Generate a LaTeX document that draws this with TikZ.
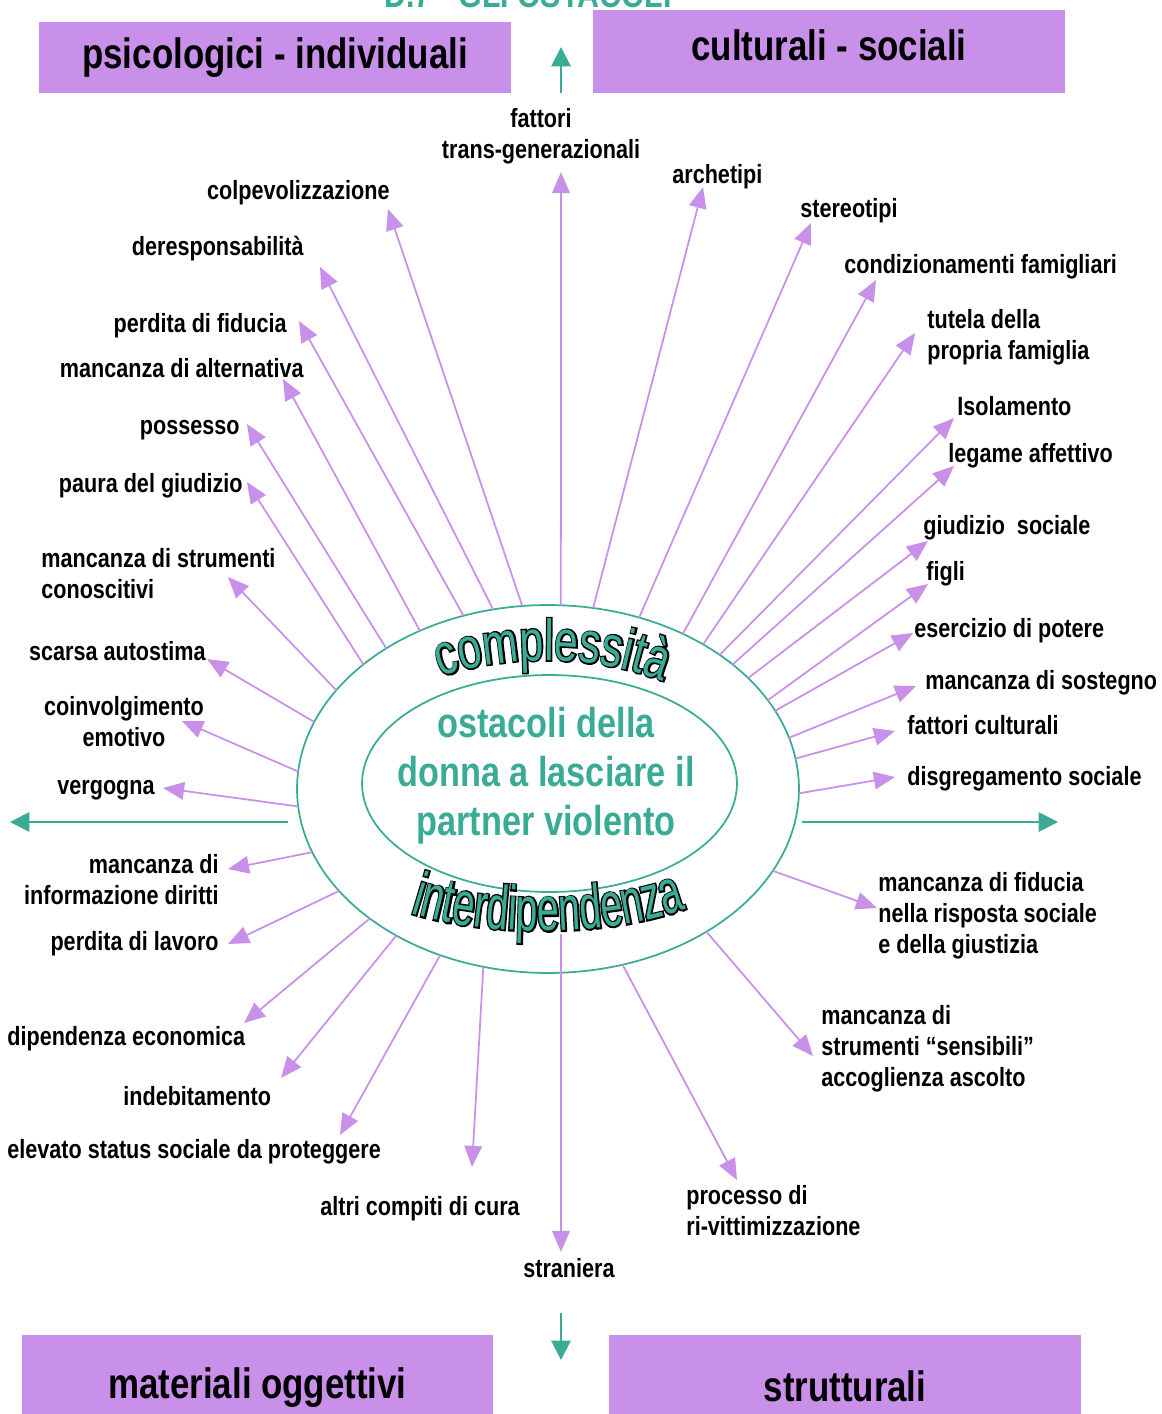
\documentclass[tikz,border=0pt]{standalone}
\usepackage{fontspec}
\setmainfont{Liberation Sans}[FakeStretch=0.82]
\newfontfamily\arcfontA{Liberation Sans}[FakeStretch=0.74]
\newfontfamily\arcfontAo{Liberation Sans}[FakeStretch=0.74,FakeBold=5]
\newfontfamily\arcfontB{Liberation Sans}[FakeStretch=0.63]
\newfontfamily\arcfontBo{Liberation Sans}[FakeStretch=0.63,FakeBold=5]
\newcommand\arcA{\arcfontA\fontsize{33}{33}\selectfont}
\newcommand\arcAo{\arcfontAo\fontsize{33}{33}\selectfont}
\newcommand\arcB{\arcfontB\fontsize{35.5}{35.5}\selectfont}
\newcommand\arcBo{\arcfontBo\fontsize{35.5}{35.5}\selectfont}
\usetikzlibrary{arrows.meta,shapes.geometric,decorations.text}
\definecolor{lilac}{RGB}{201,144,233}
\definecolor{seagreen}{RGB}{58,172,150}

\begin{document}
\begin{tikzpicture}[x=0.02cm, y=-0.02cm,
    lbl/.style={font=\fontsize{15}{17.6}\selectfont\bfseries, inner sep=0pt},
    head/.style={fill=lilac, inner sep=0pt, minimum width=9.44cm, font=\fontsize{24.2}{29}\selectfont\bfseries},
    parrow/.style={draw=lilac, line width=1pt, -{Triangle[length=12pt,width=10pt,color=lilac]}},
    tarrow/.style={draw=seagreen, line width=1.1pt, -{Triangle[length=11pt,width=11pt,color=seagreen]}}]
    \useasboundingbox (0,0) rectangle (1161,1414);

    \node[font=\fontsize{21}{25}\selectfont\bfseries, text=seagreen, anchor=base] (title) at (528,7) {D.7 - GLI OSTACOLI};
    \node[head, minimum height=1.42cm] (psico) at (275,57.5) {psicologici - individuali};
    \node[head, minimum height=1.66cm, text depth=7pt] (cultu) at (829,51.5) {culturali - sociali};
    \node[head, minimum height=2.1cm] (mater) at (257.5,1387.5) {materiali oggettivi};
    \node[head, minimum height=2.1cm, text depth=2pt] (strut) at (845,1387.5) {strutturali};

    \coordinate (up-s) at (561,93);
    \coordinate (up-t) at (561,47);
    \coordinate (left-s) at (288,822);
    \coordinate (left-t) at (10,822);
    \coordinate (right-s) at (802,822);
    \coordinate (right-t) at (1058,822);
    \coordinate (down-s) at (561,1313);
    \coordinate (down-t) at (561,1360);
    \draw[tarrow] (up-s) -- (up-t);
    \draw[tarrow] (left-s) -- (left-t);
    \draw[tarrow] (right-s) -- (right-t);
    \draw[tarrow] (down-s) -- (down-t);

    \node[ellipse, draw=seagreen, line width=1pt, minimum width=10.04cm, minimum height=7.36cm, inner sep=0pt, outer sep=0pt] (outer) at (548,789) {};
    \node[ellipse, draw=seagreen, line width=1pt, minimum width=7.5cm, minimum height=4.34cm, inner sep=0pt] (inner) at (549.5,783.5) {};
    \node[align=center, text=seagreen, font=\fontsize{23.8}{27.8}\selectfont\bfseries] (core) at (546,776) {ostacoli della\\donna a lasciare il\\partner violento};

    \path[decorate, decoration={text along path, text align=center, text={|\arcAo|complessità}}] (426,683) .. controls (495,652) and (605,652) .. (678,688);
    \path[decorate, decoration={text along path, text align=center, text color=seagreen, text={|\arcA|complessità}}] (426,683) .. controls (495,652) and (605,652) .. (678,688);
    \path[decorate, decoration={text along path, text align=center, text={|\arcBo|interdipendenza}}] (398,909) .. controls (475,938) and (615,940) .. (698,904);
    \path[decorate, decoration={text along path, text align=center, text color=seagreen, text={|\arcB|interdipendenza}}] (398,909) .. controls (475,938) and (615,940) .. (698,904);

    \node[lbl, align=center, anchor=north] (fattori) at (541,108) {fattori\\trans-generazionali};
    \coordinate (fattori-tip) at (561,172);
    \draw[parrow] (outer.86) -- (fattori-tip);

    \node[lbl, anchor=mid east] (colpe) at (390,195) {colpevolizzazione};
    \coordinate (colpe-tip) at (388,209);
    \draw[parrow] (outer.98) -- (colpe-tip);
    \node[lbl, anchor=mid east] (deresp) at (304,251) {deresponsabilità};
    \coordinate (deresp-tip) at (320,267);
    \draw[parrow] (outer.107) -- (deresp-tip);
    \node[lbl, anchor=mid east] (perdfid) at (287,328) {perdita di fiducia};
    \coordinate (perdfid-tip) at (299,321);
    \draw[parrow] (outer.116) -- (perdfid-tip);
    \node[lbl, anchor=mid east] (alternat) at (304,373) {mancanza di alternativa};
    \coordinate (alternat-tip) at (283,379);
    \draw[parrow] (outer.129) -- (alternat-tip);
    \node[lbl, anchor=mid east] (possesso) at (240,430) {possesso};
    \coordinate (possesso-tip) at (247,424);
    \draw[parrow] (outer.139) -- (possesso-tip);
    \node[lbl, anchor=mid east] (paura) at (243,488) {paura del giudizio};
    \coordinate (paura-tip) at (247,482);
    \draw[parrow] (outer.146) -- (paura-tip);
    \node[lbl, align=left, anchor=north west] (strumcon) at (41,548) {mancanza di strumenti\\conoscitivi};
    \coordinate (strumcon-tip) at (228,577);
    \draw[parrow] (outer.155) -- (strumcon-tip);
    \node[lbl, anchor=mid east] (autostima) at (206,656) {scarsa autostima};
    \coordinate (autostima-tip) at (207,659);
    \draw[parrow] (outer.164.5) -- (autostima-tip);
    \node[lbl, align=center, anchor=north] (coinvolg) at (124,696) {coinvolgimento\\emotivo};
    \coordinate (coinvolg-tip) at (182,721);
    \draw[parrow] (outer.176) -- (coinvolg-tip);
    \node[lbl, anchor=mid east] (vergogna) at (155,790) {vergogna};
    \coordinate (vergogna-tip) at (163,788);
    \draw[parrow] (outer.184) -- (vergogna-tip);

    \node[lbl, align=right, anchor=north east] (infodir) at (219,854) {mancanza di\\informazione diritti};
    \coordinate (infodir-tip) at (228,869);
    \draw[parrow] (outer.195) -- (infodir-tip);
    \node[lbl, anchor=mid east] (lavoro) at (219,946) {perdita di lavoro};
    \coordinate (lavoro-tip) at (228,944);
    \draw[parrow] (outer.206) -- (lavoro-tip);
    \node[lbl, anchor=mid west] (dipend) at (7,1041) {dipendenza economica};
    \coordinate (dipend-tip) at (244,1023);
    \draw[parrow] (outer.216) -- (dipend-tip);
    \node[lbl, anchor=mid west] (indebit) at (123,1101) {indebitamento};
    \coordinate (indebit-tip) at (281,1078);
    \draw[parrow] (outer.224) -- (indebit-tip);
    \node[lbl, anchor=mid west] (status) at (7,1154) {elevato status sociale da proteggere};
    \coordinate (status-tip) at (340,1135);
    \draw[parrow] (outer.237) -- (status-tip);
    \node[lbl, anchor=mid west] (cura) at (320,1211) {altri compiti di cura};
    \coordinate (cura-tip) at (472,1167);
    \draw[parrow] (outer.250) -- (cura-tip);
    \node[lbl, anchor=mid west] (straniera) at (523,1273) {straniera};
    \coordinate (straniera-s) at (561,934);
    \coordinate (straniera-tip) at (561,1252);
    \draw[parrow] (straniera-s) -- (straniera-tip);

    \node[lbl, align=left, anchor=north west] (rivitt) at (686,1185) {processo di\\ri-vittimizzazione};
    \coordinate (rivitt-tip) at (737,1180);
    \draw[parrow] (outer.293.5) -- (rivitt-tip);
    \node[lbl, align=left, anchor=north west] (sensib) at (821,1005) {mancanza di\\strumenti “sensibili”\\accoglienza ascolto};
    \coordinate (sensib-tip) at (813,1056);
    \draw[parrow] (outer.318) -- (sensib-tip);
    \node[lbl, align=left, anchor=north west] (giustizia) at (878,872) {mancanza di fiducia\\nella risposta sociale\\e della giustizia};
    \coordinate (giustizia-tip) at (877,908);
    \draw[parrow] (outer.340) -- (giustizia-tip);

    \node[lbl, anchor=mid west] (disgreg) at (907,781) {disgregamento sociale};
    \coordinate (disgreg-tip) at (895,777);
    \draw[parrow] (outer.359) -- (disgreg-tip);
    \node[lbl, anchor=mid west] (fattcult) at (907,730) {fattori culturali};
    \coordinate (fattcult-tip) at (895,731);
    \draw[parrow] (outer.7) -- (fattcult-tip);
    \node[lbl, anchor=mid west] (sostegno) at (925,685) {mancanza di sostegno};
    \coordinate (sostegno-tip) at (916,686);
    \draw[parrow] (outer.12) -- (sostegno-tip);
    \node[lbl, anchor=mid west] (potere) at (914,633) {esercizio di potere};
    \coordinate (potere-tip) at (913,633);
    \draw[parrow] (outer.19) -- (potere-tip);
    \node[lbl, anchor=mid west] (figli) at (926,576) {figli};
    \coordinate (figli-tip) at (928,584);
    \draw[parrow] (outer.22) -- (figli-tip);
    \node[lbl, anchor=mid west] (giudizio) at (923,530) {giudizio~ sociale};
    \coordinate (giudizio-tip) at (928,541);
    \draw[parrow] (outer.29) -- (giudizio-tip);
    \node[lbl, anchor=mid west] (legame) at (948,458) {legame affettivo};
    \coordinate (legame-tip) at (954,466);
    \draw[parrow] (outer.34) -- (legame-tip);
    \node[lbl, anchor=mid west] (isolam) at (957,411) {Isolamento};
    \coordinate (isolam-tip) at (954,418);
    \draw[parrow] (outer.38) -- (isolam-tip);
    \node[lbl, align=left, anchor=north west] (tutela) at (927,309) {tutela della\\propria famiglia};
    \coordinate (tutela-tip) at (915,333);
    \draw[parrow] (outer.43) -- (tutela-tip);
    \node[lbl, anchor=mid west] (condiz) at (844,269) {condizionamenti famigliari};
    \coordinate (condiz-tip) at (876,280);
    \draw[parrow] (outer.49) -- (condiz-tip);
    \node[lbl, anchor=mid west] (stereo) at (800,213) {stereotipi};
    \coordinate (stereo-tip) at (811,223);
    \draw[parrow] (outer.62) -- (stereo-tip);
    \node[lbl, anchor=mid west] (archet) at (672,179) {archetipi};
    \coordinate (archet-tip) at (703,187);
    \draw[parrow] (outer.76) -- (archet-tip);
\end{tikzpicture}
\end{document}
